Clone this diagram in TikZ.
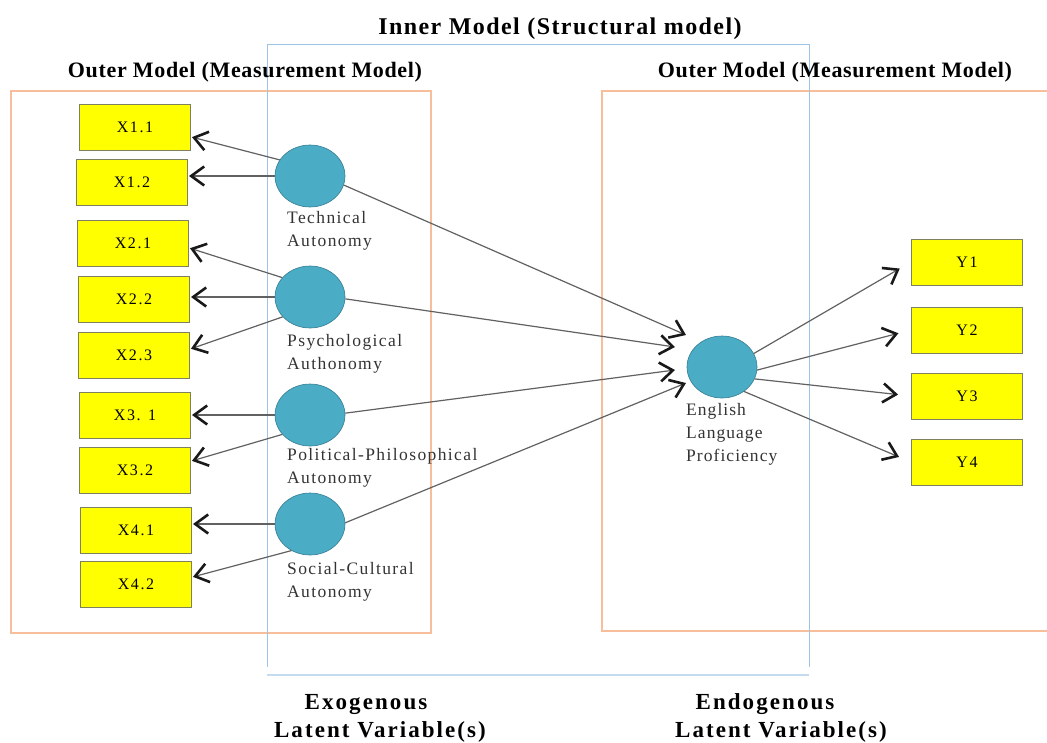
\documentclass[tikz,border=0pt]{standalone}
\usepackage{fontspec}
\setmainfont{Liberation Serif}
\usetikzlibrary{arrows.meta,shapes.geometric}
\definecolor{latent}{HTML}{4BACC6}
\definecolor{latentb}{HTML}{357D91}
\definecolor{boxy}{HTML}{FFFF00}
\definecolor{boxb}{HTML}{7F8060}
\definecolor{orangeln}{HTML}{F6BE9A}
\definecolor{blueln}{HTML}{9DC3E6}
\tikzset{
  ind/.style={draw=boxb, line width=1pt, fill=boxy, minimum width=111pt, minimum height=46pt, inner sep=0pt, font=\fontsize{16}{16}\selectfont\addfontfeature{LetterSpace=10}},
  lat/.style={ellipse, draw=latentb, line width=0.6pt, fill=latent, minimum width=70pt, minimum height=62pt, inner sep=0pt},
  lbl/.style={anchor=north west, align=left, inner sep=0pt, text=black!80, font=\fontsize{17.5}{23}\selectfont\addfontfeature{LetterSpace=8}},
  ttl/.style={font=\bfseries\fontsize{24}{28}\selectfont\addfontfeature{LetterSpace=6}, inner sep=0pt, anchor=base},
  sttl/.style={font=\bfseries\fontsize{22}{24}\selectfont\addfontfeature{LetterSpace=3}, inner sep=0pt, anchor=base},
  btl/.style={font=\bfseries\fontsize{23}{28}\selectfont\addfontfeature{LetterSpace=9}, inner sep=0pt, align=center},
  arr/.style={draw=black!62, line width=1.2pt, -{Straight Barb[length=13pt,width=19pt,line width=2.6pt,color=black!90]}, shorten >=1pt},
}
\begin{document}
\begin{tikzpicture}[x=1pt,y=-1pt]
\useasboundingbox (0,0) rectangle (1047,742);
% frames
\draw[orangeln, line width=1.2pt] (11,91) rectangle (431,633);
\draw[orangeln, line width=1.2pt] (1047,91) -- (602,91) -- (602,631) -- (1047,631);
\draw[blueln, line width=1pt] (267,667) -- (267,44) -- (809,44) -- (809,667);
\draw[blueln!60, line width=2.5pt] (267,675) -- (809,675);
% titles
\node[ttl] (tin) at (560,34) {Inner Model (Structural model)};
\node[sttl] (tol) at (245,77) {Outer Model (Measurement Model)};
\node[sttl] (tor) at (835,77) {Outer Model (Measurement Model)};
\node[btl] (exo) at (380,718) {Exogenous\hspace*{28pt}\\ Latent Variable(s)};
\node[btl] (endo) at (781,718) {Endogenous\hspace*{32pt}\\ Latent Variable(s)};
% indicators
\node[ind] (x11) at (135,127) {X1.1};
\node[ind] (x12) at (132,182) {X1.2};
\node[ind] (x21) at (133,243) {X2.1};
\node[ind] (x22) at (134,299) {X2.2};
\node[ind] (x23) at (134,355) {X2.3};
\node[ind] (x31) at (135,415) {X3. 1};
\node[ind] (x32) at (135,470) {X3.2};
\node[ind] (x41) at (136,530) {X4.1};
\node[ind] (x42) at (136,584) {X4.2};
\node[ind] (y1) at (967,262) {Y1};
\node[ind] (y2) at (967,330) {Y2};
\node[ind] (y3) at (967,396) {Y3};
\node[ind] (y4) at (967,462) {Y4};
% latent
\node[lat] (tech) at (310,176) {};
\node[lat] (psy) at (310,297) {};
\node[lat] (pol) at (310,415) {};
\node[lat] (soc) at (310,524) {};
\node[lat] (eng) at (722,367) {};
\node[lbl] (ltech) at (287,211) {Technical\\Autonomy};
\node[lbl] (lpsy) at (287,334) {Psychological\\Authonomy};
\node[lbl] (lpol) at (287,448) {Political-Philosophical\\Autonomy};
\node[lbl] (lsoc) at (287,562) {Social-Cultural\\Autonomy};
\node[lbl, font=\fontsize{17.5}{23}\selectfont\addfontfeature{LetterSpace=6}] (leng) at (686,403) {English\\Language\\Proficiency};
% tips of the structural arrows
\coordinate (in1) at (686,335);
\coordinate (in2) at (675,347);
\coordinate (in3) at (675,370);
\coordinate (in4) at (686,383);
% outer arrows (left)
\draw[arr] (tech.152) -- (x11.-10);
\draw[arr] (tech.west) -- (x12.east |- tech.west);
\draw[arr] (psy.145) -- (x21.-5);
\draw[arr] (psy.west) -- (x22.east |- psy.west);
\draw[arr] (psy.216) -- (x23.6);
\draw[arr] (pol.west) -- (x31.east |- pol.west);
\draw[arr] (pol.215) -- (x32.9);
\draw[arr] (soc.west) -- (x41.east |- soc.west);
\draw[arr] (soc.235) -- (x42.7);
% structural arrows
\draw[arr, shorten >=0pt] (tech.-15) -- (in1);
\draw[arr, shorten >=0pt] (psy.-3) -- (in2);
\draw[arr, shorten >=0pt] (pol.3) -- (in3);
\draw[arr, shorten >=0pt] (soc.2) -- (in4);
% outer arrows (right)
\draw[arr, shorten >=13pt] (eng.23) -- (y1.west);
\draw[arr, shorten >=13pt] (eng.-5) -- (y2.west);
\draw[arr, shorten >=13pt] (eng.-20) -- (y3.west);
\draw[arr, shorten >=13pt] (eng.-48) -- (y4.west);
\end{tikzpicture}
\end{document}
